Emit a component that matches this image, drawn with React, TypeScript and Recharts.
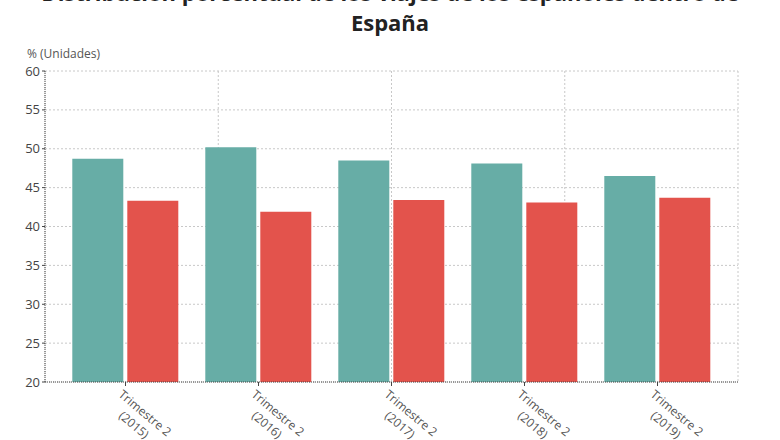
import React from 'react';
import { BarChart, Bar, XAxis, YAxis, CartesianGrid } from 'recharts';

const periods = ['Trimestre 2 (2015)', 'Trimestre 2 (2016)', 'Trimestre 2 (2017)', 'Trimestre 2 (2018)', 'Trimestre 2 (2019)'];
const seriesA = [48.7, 50.2, 48.5, 48.1, 46.5];
const seriesB = [43.3, 41.9, 43.4, 43.1, 43.7];
const yTicks = [20, 25, 30, 35, 40, 45, 50, 55, 60];

const GREEN = '#67ada6';
const RED = '#e3534c';
const FONT = '"Open Sans", "Noto Sans", sans-serif';

const rows = periods.map((p, i) => ({ periodo: p, a: seriesA[i], b: seriesB[i] }));

// two-line label, tilted, hanging from the tick
function PeriodTick(props: any) {
  const { x, y, payload } = props;
  const [quarter, year] = String(payload.value).split(' (');
  return (
    <g transform={`translate(${x},${y})`}>
      <text transform="rotate(40)" fill="#555" fontSize={12} fontFamily={FONT} textAnchor="start">
        <tspan x={-1} dy={11}>{quarter}</tspan>
        <tspan x={13} dy={16}>({year}</tspan>
      </text>
    </g>
  );
}

export default function App() {
  return (
    <div style={{ position: 'fixed', left: 0, top: 0, width: 780, height: 440, background: '#fff', overflow: 'hidden', fontFamily: FONT }}>
      <div style={{ position: 'absolute', top: -23, left: 0, width: 780, textAlign: 'center', fontSize: 22, fontWeight: 700, lineHeight: '30px', color: '#222' }}>
        <div>Distribución porcentual de los viajes de los españoles dentro de</div>
        <div>España</div>
      </div>
      <div style={{ position: 'absolute', left: 27, top: 46, fontSize: 12, lineHeight: '15px', color: '#555' }}>% (Unidades)</div>
      <BarChart
        width={780}
        height={440}
        data={rows}
        margin={{ top: 71, right: 42, bottom: 0, left: 0 }}
        barCategoryGap="10%"
        barGap={4}
      >
        <CartesianGrid
          stroke="#c8c8c8"
          strokeDasharray="2 2"
          verticalCoordinatesGenerator={({ offset }: any) => [0, 1, 2, 3, 4].map((i) => offset.left + (offset.width * i) / 4)}
        />
        <XAxis
          dataKey="periodo"
          height={58}
          padding={{ left: 14, right: 14 }}
          axisLine={{ stroke: '#444', strokeDasharray: '1 1' }}
          tickLine={{ stroke: '#444' }}
          tickSize={4}
          interval={0}
          tick={<PeriodTick />}
        />
        <YAxis
          width={45}
          domain={[20, 60]}
          ticks={yTicks}
          allowDataOverflow
          axisLine={{ stroke: '#444', strokeDasharray: '1 1' }}
          tickLine={{ stroke: '#444' }}
          tickSize={3}
          tick={{ fill: '#444', fontSize: 13, fontFamily: FONT }}
        />
        <Bar dataKey="a" fill={GREEN} isAnimationActive={false} />
        <Bar dataKey="b" fill={RED} isAnimationActive={false} />
      </BarChart>
    </div>
  );
}
